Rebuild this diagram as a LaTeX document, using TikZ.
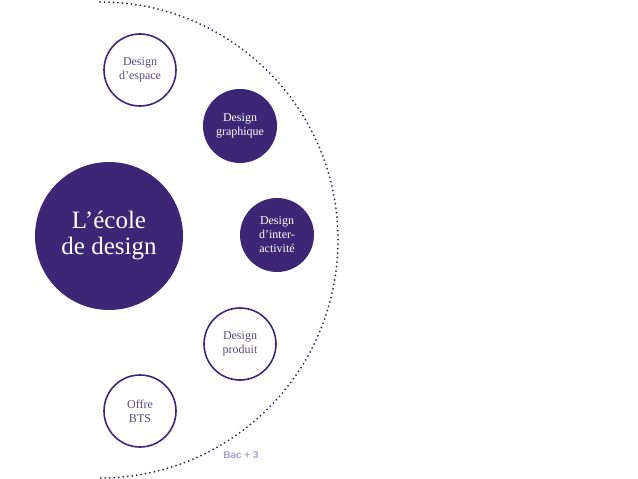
\documentclass[tikz,border=0pt]{standalone}
\usepackage{fontspec}
\setmainfont{Liberation Serif}
\setsansfont{Liberation Sans}
\usetikzlibrary{positioning}
\definecolor{ecole}{RGB}{60,38,117}
\definecolor{ecoletext}{RGB}{88,74,130}
\definecolor{bac}{RGB}{168,158,201}
\tikzset{
  filled/.style={circle, fill=ecole, text=white, minimum size=74bp, inner sep=0pt, align=center, font=\fontsize{12bp}{14bp}\selectfont},
  outlined/.style={circle, draw=ecole, line width=1.6bp, fill=white, text=ecoletext, minimum size=72bp, inner sep=0pt, align=center, font=\fontsize{12bp}{14bp}\selectfont}
}

\begin{document}
\begin{tikzpicture}[x=1bp, y=-1bp]
        \useasboundingbox (0,0) rectangle (638,479);
        \coordinate (top) at (100,2);
        \draw[ecole!85!black, line width=2bp, line cap=round, dash pattern=on 0pt off 4.5bp] (top) arc[start angle=-90, end angle=90, radius=238];
        \node[filled, minimum size=148bp, font=\fontsize{25bp}{26bp}\selectfont] (ecole) at (109,236) {L’école\\de design};
        \node[outlined] (espace) at (140,70) {Design\\d’espace};
        \node[filled] (graphique) at (240,126) {Design\\graphique};
        \node[filled] (inter) at (277,235) {Design\\d’inter-\\activité};
        \node[outlined] (produit) at (240,344) {Design\\produit};
        \node[outlined] (bts) at (140,411) {Offre\\BTS};
        \node[font=\sffamily\bfseries\fontsize{10bp}{12bp}\selectfont, text=bac] (bac3) at (241,455) {Bac + 3};
    \end{tikzpicture}
\end{document}
